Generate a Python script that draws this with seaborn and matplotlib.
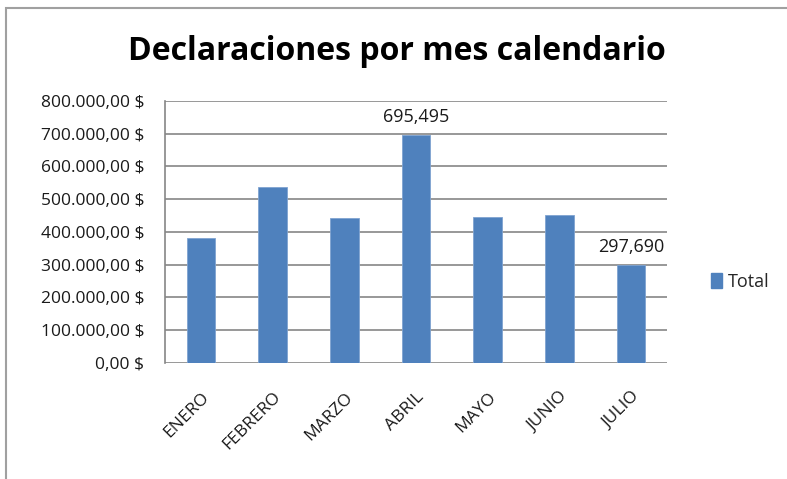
import matplotlib
matplotlib.use("Agg")
import matplotlib.pyplot as plt
import matplotlib.patches as mpatches
from matplotlib.ticker import FuncFormatter, FixedLocator
import pandas as pd
import seaborn as sns

meses = ["ENERO", "FEBRERO", "MARZO", "ABRIL", "MAYO", "JUNIO", "JULIO"]
totales = [382000, 538000, 442000, 695495, 446500, 452600, 297690]
etiquetas = ["", "", "", "695,495", "", "", "297,690"]
y_ticks = [0, 100000, 200000, 300000, 400000, 500000, 600000, 700000, 800000]

BLUE = "#4F81BD"
GRID = "#868686"
TXT = "#1A1A1A"

sns.set_style("white")
plt.rcParams["font.family"] = ["Open Sans", "DejaVu Sans"]

df = pd.DataFrame({"mes": meses, "total": totales})

fig = plt.figure(figsize=(7.87, 4.79), dpi=100)
ax = fig.add_axes([0.2097, 0.2428, 0.6378, 0.5462])

sns.barplot(data=df, x="mes", y="total", color=BLUE, saturation=1,
            width=0.4, ax=ax, edgecolor="#7FA3D1", linewidth=0.6, zorder=3)

ax.set_ylim(0, 800000)
ax.set_xlim(-0.5, len(meses) - 0.5)
ax.yaxis.set_major_locator(FixedLocator(y_ticks))


def fmt_dolar(v, pos):
    s = f"{v:,.2f}".replace(",", "X").replace(".", ",").replace("X", ".")
    return s + " $"


ax.yaxis.set_major_formatter(FuncFormatter(fmt_dolar))
ax.grid(axis="y", color=GRID, linewidth=1.2, zorder=0)
ax.grid(axis="x", visible=False)

for side in ["top", "right", "bottom"]:
    ax.spines[side].set_visible(False)
ax.spines["left"].set_color(GRID)
ax.spines["left"].set_linewidth(1.2)

# ticks between the categories on x
ax.set_xticks(range(len(meses)))
ax.set_xticklabels(meses, rotation=45, ha="right", rotation_mode="anchor",
                   fontsize=12.5, color=TXT)
ax.set_xticks([i - 0.5 for i in range(len(meses) + 1)], minor=True)
ax.tick_params(axis="x", which="major", length=0, pad=19)
ax.tick_params(axis="x", which="minor", length=6, width=1.2, color=GRID,
               direction="out")
ax.tick_params(axis="y", length=6, width=1.2, color=GRID, direction="out",
               labelsize=12.5, labelcolor=TXT, pad=9)
ax.set_xlabel("")
ax.set_ylabel("")

ax.bar_label(ax.containers[0], labels=etiquetas, padding=7, fontsize=13,
             color=TXT)

fig.text(397 / 787, 1 - 52 / 479, "Declaraciones por mes calendario",
         fontsize=23, fontweight="bold", ha="center", va="center", color="black")

handle = mpatches.Patch(color=BLUE, label="Total")
ax.legend(handles=[handle], loc="center left", bbox_to_anchor=(1.07, 0.31),
          frameon=False, fontsize=13, handlelength=0.6, handleheight=0.9,
          handletextpad=0.35, borderpad=0)

# outer frame of the chart area
fig.patches.append(mpatches.Rectangle((6 / 787, -0.1), 1.2, 1 - 8 / 479 + 0.1,
                                      transform=fig.transFigure, fill=False,
                                      edgecolor="#A0A0A0", linewidth=1.5))

fig.savefig("out.png", dpi=100, facecolor="white")
